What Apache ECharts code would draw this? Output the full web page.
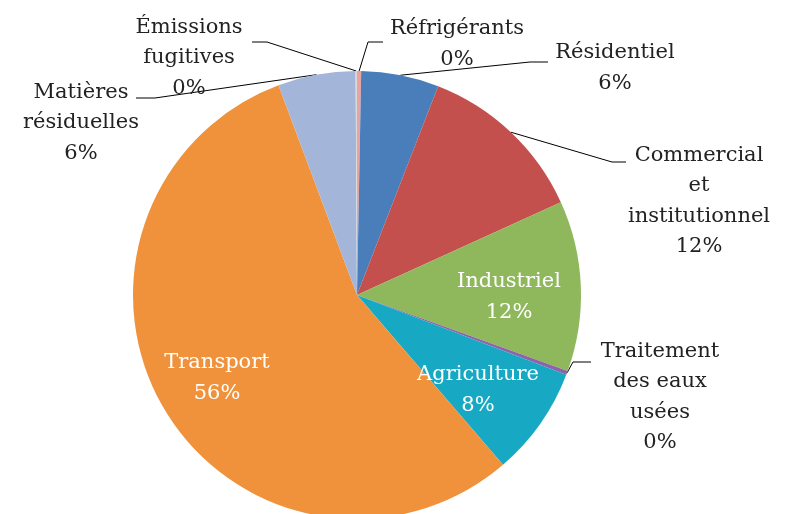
<!DOCTYPE html>
<html>
<head>
<meta charset="utf-8">
<script src="https://cdn.jsdelivr.net/npm/echarts@6/dist/echarts.min.js"></script>
<style>
  html, body { margin: 0; padding: 0; background: #fff; }
  #emissions-pie { width: 800px; height: 514px; }
</style>
</head>
<body>
<div id="emissions-pie"></div>
<script>
// secteurs, dans le sens horaire depuis le haut
const sectors = [
  "Réfrigérants",
  "Résidentiel",
  "Commercial\net\ninstitutionnel",
  "Industriel",
  "Traitement\ndes eaux\nusées",
  "Agriculture",
  "Transport",
  "Matières\nrésiduelles",
  "Émissions\nfugitives"
];
const shares = [0.3, 5.6, 12.3, 12.3, 0.3, 7.9, 55.6, 5.6, 0.1];
const colors = ["#E9A3A2", "#4A7EBB", "#C4504D", "#8FB85C", "#8E63A8", "#17A9C3", "#F0923B", "#A3B6DA", "#D9D9D9"];
const insideLabels = ["Industriel", "Agriculture", "Transport"];

// centre de chaque étiquette
const labelPos = [
  [457, 44], [615, 68], [699, 201], [509, 297], [660, 397],
  [478, 390], [217, 378], [81, 123], [189, 58]
];
// coude et fin des traits de rappel (null = pas de trait)
const leaderPts = [
  [[368, 42], [383, 42]],
  [[530, 62], [548, 62]],
  [[612, 162], [626, 162]],
  null,
  [[573, 362], [591, 362]],
  null,
  null,
  [[155, 98], [136, 98]],
  [[267, 42], [252, 42]]
];

let chart = echarts.init(document.getElementById("emissions-pie"));

let option = {
  animation: false,
  color: colors,
  series: [
    {
      type: "pie",
      center: [357, 295],
      radius: 224,
      startAngle: 90,
      clockwise: true,
      percentPrecision: 0,
      avoidLabelOverlap: false,
      label: {
        show: true,
        formatter: "{b}\n{d}%",
        fontFamily: "DejaVu Serif",
        fontSize: 21,
        lineHeight: 30.5,
        color: "#222",
        align: "center"
      },
      labelLine: {
        show: true,
        length: 20,
        length2: 15,
        lineStyle: { color: "#000", width: 1 }
      },
      labelLayout: params => {
        const i = params.dataIndex;
        const p = labelPos[i];
        const out = { x: p[0], y: p[1], align: "center", verticalAlign: "middle" };
        if (leaderPts[i] && params.labelLinePoints) {
          out.labelLinePoints = [params.labelLinePoints[0], leaderPts[i][0], leaderPts[i][1]];
        }
        return out;
      },
      data: sectors.map((name, i) => {
        const inside = insideLabels.includes(name);
        return {
          name: name,
          value: shares[i],
          label: inside ? { position: "inside", color: "#fff" } : {},
          labelLine: { show: !inside }
        };
      })
    }
  ]
};

chart.setOption(option);
</script>
</body>
</html>
